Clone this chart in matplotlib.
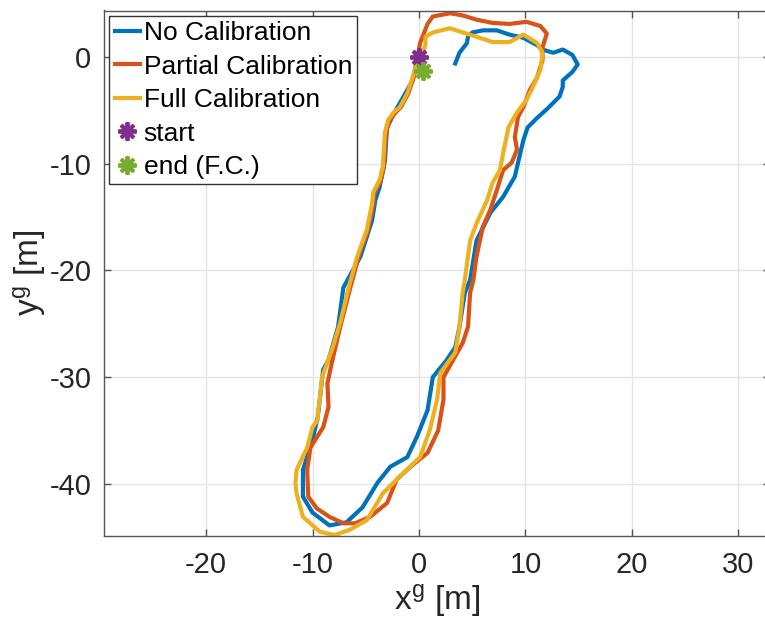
import matplotlib as mpl
import matplotlib.pyplot as plt

mpl.rcParams['font.family'] = ['Liberation Sans', 'DejaVu Sans']
mpl.rcParams['mathtext.default'] = 'regular'

# ======= trajectories (metres) =======
# No Calibration
nc_x = [0.0, -0.2, -0.6, -2.3, -3.0, -3.2, -3.7, -4.1, -4.4, -5.5, -7.1, -7.6,
        -8.5, -9.0, -9.5, -10.0, -10.9, -10.9, -10.0, -8.4, -6.8, -5.3, -3.9,
        -2.7, -1.1, -0.2, 0.8, 1.3, 2.6, 3.4, 3.8, 4.3, 4.8, 5.4, 6.7, 7.9, 9.0,
        9.3, 9.8, 10.2, 11.1, 12.1, 13.2, 13.5, 13.5, 14.4, 14.9, 14.4, 13.5,
        12.6, 11.6, 11.1, 9.8, 8.5, 7.3, 6.0, 5.0, 4.6, 4.5, 3.8, 3.4]
nc_y = [0.0, -0.3, -2.2, -5.2, -6.6, -9.7, -12.2, -13.4, -15.3, -18.7, -21.6,
        -25.3, -28.4, -29.3, -33.7, -35.9, -38.7, -41.2, -42.7, -43.9, -43.6,
        -42.2, -39.9, -38.4, -37.5, -35.6, -33.1, -30.0, -28.4, -27.2, -25.3,
        -22.1, -20.9, -17.2, -14.6, -13.1, -11.2, -9.9, -7.8, -6.6, -5.7, -4.8,
        -3.7, -2.8, -2.2, -1.4, -0.7, 0.2, 0.7, 0.4, 0.7, 1.1, 1.8, 2.1, 2.5,
        2.5, 2.3, 1.9, 1.3, 0.4, -0.6]

# Partial Calibration
pc_x = [0.0, -0.5, -1.0, -1.7, -2.3, -2.8, -3.1, -3.3, -3.6, -4.2, -4.3, -4.8,
        -5.5, -6.5, -7.4, -8.2, -8.6, -8.5, -9.0, -10.2, -10.5, -10.4, -9.6,
        -8.4, -7.1, -6.0, -4.6, -3.0, -2.1, -0.8, 0.8, 1.8, 2.3, 2.3, 3.2, 4.1,
        4.6, 4.8, 5.1, 5.4, 6.0, 6.7, 7.3, 7.9, 8.7, 9.2, 9.0, 9.3, 9.8, 10.4,
        11.1, 11.6, 11.6, 12.0, 11.4, 10.1, 8.5, 6.9, 5.4, 4.1, 2.9, 1.3, 0.8,
        0.1, -0.1]
pc_y = [0.0, -1.9, -3.4, -4.7, -5.3, -6.0, -7.2, -10.3, -11.6, -12.8, -13.8,
        -16.3, -18.1, -21.8, -25.3, -28.7, -30.6, -32.8, -34.7, -36.6, -38.7,
        -41.2, -42.3, -43.1, -43.7, -43.7, -43.1, -41.8, -39.6, -38.4, -37.1,
        -35.0, -32.1, -30.0, -28.4, -26.8, -25.3, -22.1, -20.9, -18.7, -15.9,
        -14.3, -12.5, -10.6, -9.9, -8.7, -7.5, -5.6, -4.7, -3.1, -1.9, -0.3,
        0.9, 2.2, 2.9, 3.3, 3.1, 3.2, 3.5, 3.9, 4.1, 3.8, 3.1, 1.3, 0.2]

# Full Calibration
fc_x = [0.0, -0.6, -1.1, -1.8, -2.4, -2.9, -3.2, -3.4, -3.7, -4.3, -4.4, -4.9,
        -5.8, -6.5, -7.4, -8.1, -9.1, -9.3, -9.5, -9.5, -10.0, -10.5, -11.5,
        -11.6, -11.5, -10.9, -9.3, -7.9, -6.5, -4.9, -3.4, -1.5, 0.1, 1.0, 1.7,
        2.0, 3.4, 3.8, 4.1, 4.3, 4.8, 5.4, 6.4, 6.9, 7.6, 7.9, 8.4, 9.2, 10.1,
        10.7, 11.4, 11.6, 11.1, 9.8, 8.5, 6.9, 5.4, 4.1, 2.9, 1.3, 0.6, 0.6,
        0.2, 0.4]
fc_y = [0.0, -1.9, -3.4, -4.7, -5.2, -5.9, -7.1, -10.3, -11.5, -12.7, -13.7,
        -16.2, -18.7, -21.2, -24.9, -27.2, -30.0, -31.9, -33.4, -34.0, -34.7,
        -36.6, -38.7, -39.9, -40.9, -43.1, -44.5, -44.8, -44.3, -43.4, -40.9,
        -39.0, -37.5, -35.0, -32.1, -29.6, -27.7, -25.3, -22.1, -20.9, -17.2,
        -15.6, -13.4, -11.8, -10.6, -9.0, -6.6, -5.2, -4.0, -2.8, -1.2, 0.4,
        1.3, 2.1, 1.4, 1.4, 1.9, 2.3, 2.7, 2.3, 1.9, 1.1, 0.0, -1.2]

start_xy = (0.0, 0.0)
end_xy = (0.4, -1.3)

labels = ['No Calibration', 'Partial Calibration', 'Full Calibration',
          'start', 'end (F.C.)']
xticks = [-20, -10, 0, 10, 20, 30]
yticks = [-40, -30, -20, -10, 0]

mycols = {'blue': '#0072BD', 'orange': '#D95319', 'yellow': '#EDB120',
          'purple': '#7E2F8E', 'green': '#77AC30'}

fig = plt.figure(figsize=(7.65, 6.39), dpi=100)
ax = fig.add_axes([104/765, 1 - 536/639, 666/765, 525.5/639])

lw = 3.0
ax.plot(nc_x, nc_y, color=mycols['blue'], lw=lw, label=labels[0])
ax.plot(pc_x, pc_y, color=mycols['orange'], lw=lw, label=labels[1])
ax.plot(fc_x, fc_y, color=mycols['yellow'], lw=lw, label=labels[2])
ax.plot(*start_xy, ls='none', marker=(8, 2, 0), ms=13, mew=2.8,
        color=mycols['purple'], label=labels[3])
ax.plot(*end_xy, ls='none', marker=(8, 2, 0), ms=13, mew=2.8,
        color=mycols['green'], label=labels[4])

ax.set_xlim(-29.58, 32.96)
ax.set_ylim(-44.89, 4.36)
ax.set_xticks(xticks)
ax.set_yticks(yticks)
ax.set_xticklabels([str(t) for t in xticks])
ax.set_yticklabels([str(t) for t in yticks])

ax.grid(color='#e4e4e4', lw=1)
ax.set_axisbelow(True)
for s in ax.spines:
    ax.spines[s].set_color('#555555')
    ax.spines[s].set_linewidth(1.0)
ax.tick_params(direction='in', length=5, width=1, color='#555555',
               labelsize=21, labelcolor='#262626', top=True, right=True)
ax.tick_params(axis='x', pad=11)
ax.tick_params(axis='y', pad=9)

ax.set_xlabel(r'x$^{g}$ [m]', fontsize=24, color='#262626', labelpad=2)
ax.set_ylabel(r'y$^{g}$ [m]', fontsize=24, color='#262626', labelpad=1)

leg = ax.legend(loc='upper left', fontsize=19, frameon=True, fancybox=False,
                framealpha=1, edgecolor='#333333', borderaxespad=0.2,
                handlelength=0.95, handletextpad=0.15, labelspacing=0.36,
                borderpad=0.2)
leg.get_frame().set_linewidth(1.0)

fig.savefig('out.png', dpi=100)
